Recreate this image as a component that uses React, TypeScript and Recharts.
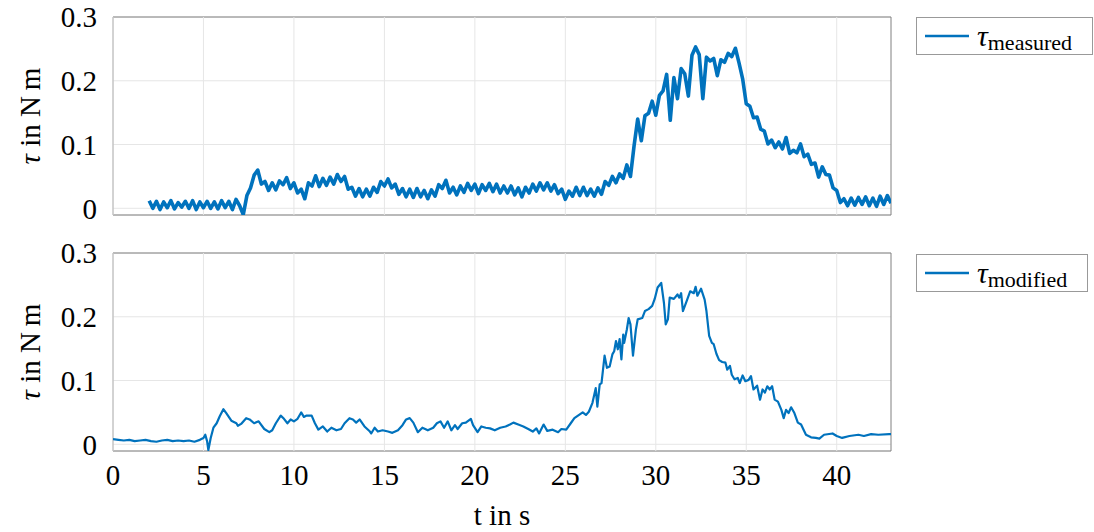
import { LineChart, Line, XAxis, YAxis, CartesianGrid, ReferenceArea, ReferenceLine, Label } from 'recharts';

// t in s, tau in N m
const timeTicks = [0, 5, 10, 15, 20, 25, 30, 35, 40];
const torqueTicks = [0, 0.1, 0.2, 0.3];

const measured: [number, number][] = [
  [2.0, 0.012], [2.2, 0.0], [2.4, 0.011], [2.6, -0.002], [2.8, 0.01], [3.0, 0.001], [3.2, 0.012], [3.4, -0.001],
  [3.6, 0.009], [3.8, 0.002], [4.0, 0.011], [4.2, 0.0], [4.4, 0.012], [4.6, -0.002], [4.8, 0.01], [5.0, 0.001],
  [5.2, 0.011], [5.4, 0.0], [5.6, 0.01], [5.8, -0.001], [6.0, 0.012], [6.2, 0.001], [6.4, 0.011], [6.6, -0.002],
  [6.8, 0.014], [7.0, 0.004], [7.2, -0.01], [7.4, 0.02], [7.6, 0.032], [7.8, 0.052], [8.0, 0.06], [8.2, 0.038],
  [8.4, 0.042], [8.6, 0.028], [8.8, 0.04], [9.0, 0.029], [9.2, 0.043], [9.4, 0.037], [9.6, 0.048], [9.8, 0.031],
  [10.0, 0.04], [10.2, 0.024], [10.4, 0.03], [10.6, 0.015], [10.8, 0.04], [11.0, 0.035], [11.2, 0.051], [11.4, 0.034],
  [11.6, 0.047], [11.8, 0.036], [12.0, 0.049], [12.2, 0.038], [12.4, 0.053], [12.6, 0.042], [12.8, 0.05], [13.0, 0.03],
  [13.2, 0.033], [13.4, 0.019], [13.6, 0.031], [13.8, 0.018], [14.0, 0.03], [14.2, 0.019], [14.4, 0.033], [14.6, 0.025],
  [14.8, 0.042], [15.0, 0.035], [15.2, 0.046], [15.4, 0.032], [15.6, 0.038], [15.8, 0.022], [16.0, 0.031], [16.2, 0.018],
  [16.4, 0.03], [16.6, 0.017], [16.8, 0.031], [17.0, 0.018], [17.2, 0.028], [17.4, 0.015], [17.6, 0.029], [17.8, 0.019],
  [18.0, 0.037], [18.2, 0.031], [18.4, 0.044], [18.6, 0.024], [18.8, 0.033], [19.0, 0.021], [19.2, 0.035], [19.4, 0.025],
  [19.6, 0.039], [19.8, 0.028], [20.0, 0.038], [20.2, 0.023], [20.4, 0.037], [20.6, 0.028], [20.8, 0.039], [21.0, 0.026],
  [21.2, 0.038], [21.4, 0.024], [21.6, 0.035], [21.8, 0.024], [22.0, 0.035], [22.2, 0.021], [22.4, 0.032], [22.6, 0.018],
  [22.8, 0.033], [23.0, 0.024], [23.2, 0.038], [23.4, 0.027], [23.6, 0.04], [23.8, 0.029], [24.0, 0.04], [24.2, 0.027],
  [24.4, 0.037], [24.6, 0.023], [24.8, 0.03], [25.0, 0.014], [25.2, 0.027], [25.4, 0.019], [25.6, 0.033], [25.8, 0.02],
  [26.0, 0.033], [26.2, 0.02], [26.4, 0.03], [26.6, 0.019], [26.8, 0.032], [27.0, 0.022], [27.2, 0.042], [27.4, 0.036],
  [27.6, 0.05], [27.8, 0.04], [28.0, 0.054], [28.2, 0.047], [28.4, 0.068], [28.6, 0.05], [28.8, 0.098], [29.0, 0.14],
  [29.2, 0.106], [29.4, 0.145], [29.6, 0.149], [29.8, 0.168], [30.0, 0.146], [30.2, 0.177], [30.4, 0.184], [30.6, 0.21],
  [30.8, 0.138], [31.0, 0.205], [31.2, 0.172], [31.4, 0.219], [31.6, 0.211], [31.8, 0.176], [32.0, 0.24], [32.2, 0.253],
  [32.4, 0.241], [32.6, 0.172], [32.8, 0.237], [33.0, 0.231], [33.2, 0.235], [33.4, 0.208], [33.6, 0.233], [33.8, 0.229],
  [34.0, 0.243], [34.2, 0.238], [34.4, 0.251], [34.6, 0.228], [34.8, 0.203], [35.0, 0.164], [35.2, 0.16], [35.4, 0.142],
  [35.6, 0.143], [35.8, 0.124], [36.0, 0.121], [36.2, 0.101], [36.4, 0.107], [36.6, 0.095], [36.8, 0.104], [37.0, 0.093],
  [37.2, 0.111], [37.4, 0.086], [37.6, 0.091], [37.8, 0.087], [38.0, 0.101], [38.2, 0.081], [38.4, 0.085], [38.6, 0.069],
  [38.8, 0.071], [39.0, 0.049], [39.2, 0.065], [39.4, 0.053], [39.6, 0.052], [39.8, 0.032], [40.0, 0.028], [40.2, 0.009],
  [40.4, 0.015], [40.6, 0.004], [40.8, 0.016], [41.0, 0.005], [41.2, 0.017], [41.4, 0.006], [41.6, 0.018], [41.8, 0.004],
  [42.0, 0.016], [42.2, 0.003], [42.4, 0.019], [42.6, 0.006], [42.8, 0.02], [43.0, 0.008],
];

const modified: [number, number][] = [
  [0, 0.008], [0.3, 0.007], [0.6, 0.006], [0.9, 0.007], [1.2, 0.005], [1.5, 0.006], [1.8, 0.007], [2.1, 0.005],
  [2.4, 0.004], [2.7, 0.006], [3.0, 0.007], [3.3, 0.005], [3.6, 0.006], [3.9, 0.005], [4.2, 0.006], [4.5, 0.004],
  [4.8, 0.007], [5.0, 0.01], [5.1, 0.015], [5.2, 0.005], [5.27, -0.009], [5.4, 0.01], [5.55, 0.026], [5.73, 0.033],
  [5.9, 0.044], [6.1, 0.055], [6.26, 0.049], [6.54, 0.037], [6.82, 0.033], [6.9, 0.029], [7.08, 0.032], [7.36, 0.041],
  [7.55, 0.039], [7.8, 0.033], [8.05, 0.036], [8.36, 0.024], [8.64, 0.019], [8.8, 0.022], [9.0, 0.033], [9.27, 0.045],
  [9.45, 0.04], [9.64, 0.033], [9.82, 0.039], [10.0, 0.036], [10.2, 0.04], [10.4, 0.05], [10.55, 0.043], [10.7, 0.045],
  [10.98, 0.045], [11.16, 0.033], [11.35, 0.023], [11.6, 0.028], [11.84, 0.02], [12.07, 0.026], [12.35, 0.022], [12.6, 0.024],
  [12.8, 0.033], [13.07, 0.041], [13.26, 0.039], [13.44, 0.034], [13.63, 0.039], [13.9, 0.028], [14.2, 0.02], [14.27, 0.017],
  [14.46, 0.026], [14.64, 0.02], [14.9, 0.022], [15.2, 0.02], [15.44, 0.018], [15.75, 0.022], [16.0, 0.03], [16.2, 0.039],
  [16.4, 0.041], [16.6, 0.034], [16.85, 0.019], [17.1, 0.026], [17.4, 0.022], [17.7, 0.026], [17.9, 0.033], [18.1, 0.036],
  [18.3, 0.026], [18.5, 0.036], [18.7, 0.022], [18.9, 0.03], [19.05, 0.024], [19.3, 0.033], [19.5, 0.034], [19.78, 0.04],
  [19.9, 0.03], [20.15, 0.019], [20.36, 0.028], [20.6, 0.026], [20.84, 0.025], [21.1, 0.022], [21.4, 0.026], [21.7, 0.028],
  [21.94, 0.031], [22.13, 0.034], [22.4, 0.031], [22.68, 0.028], [22.95, 0.024], [23.2, 0.02], [23.4, 0.025], [23.55, 0.017],
  [23.8, 0.031], [24.0, 0.021], [24.3, 0.023], [24.6, 0.019], [24.78, 0.024], [25.05, 0.023], [25.3, 0.033], [25.5, 0.041],
  [25.7, 0.045], [25.96, 0.05], [26.14, 0.046], [26.3, 0.051], [26.5, 0.065], [26.68, 0.088], [26.77, 0.059], [26.9, 0.094],
  [27.0, 0.096], [27.17, 0.139], [27.3, 0.12], [27.45, 0.122], [27.6, 0.141], [27.7, 0.146], [27.8, 0.162], [27.9, 0.149],
  [28.0, 0.165], [28.1, 0.133], [28.2, 0.172], [28.25, 0.159], [28.4, 0.18], [28.5, 0.198], [28.6, 0.188], [28.74, 0.139],
  [28.9, 0.18], [29.0, 0.196], [29.25, 0.198], [29.4, 0.209], [29.6, 0.212], [29.8, 0.217], [29.94, 0.228], [30.1, 0.246],
  [30.3, 0.253], [30.45, 0.222], [30.55, 0.188], [30.67, 0.196], [30.77, 0.23], [31.0, 0.228], [31.2, 0.235], [31.3, 0.23],
  [31.4, 0.237], [31.5, 0.209], [31.71, 0.225], [31.9, 0.24], [32.1, 0.237], [32.2, 0.247], [32.3, 0.233], [32.5, 0.244],
  [32.7, 0.227], [32.8, 0.209], [32.95, 0.17], [33.1, 0.159], [33.2, 0.157], [33.35, 0.142], [33.5, 0.132], [33.67, 0.129],
  [33.85, 0.128], [33.95, 0.117], [34.1, 0.123], [34.2, 0.109], [34.35, 0.102], [34.53, 0.104], [34.64, 0.096], [34.8, 0.108],
  [34.95, 0.099], [35.13, 0.101], [35.26, 0.107], [35.4, 0.086], [35.6, 0.092], [35.76, 0.07], [35.9, 0.086], [36.03, 0.081],
  [36.16, 0.091], [36.3, 0.086], [36.43, 0.091], [36.57, 0.07], [36.75, 0.067], [36.94, 0.054], [37.07, 0.041], [37.2, 0.054],
  [37.34, 0.049], [37.48, 0.058], [37.66, 0.049], [37.85, 0.034], [38.03, 0.031], [38.3, 0.015], [38.58, 0.011], [38.85, 0.01],
  [39.04, 0.009], [39.3, 0.015], [39.77, 0.017], [40.0, 0.013], [40.3, 0.01], [40.7, 0.013], [41.2, 0.015], [41.5, 0.013],
  [41.9, 0.016], [42.3, 0.015], [42.9, 0.016], [43.0, 0.016],
];

const FONT = "'Liberation Serif', 'DejaVu Serif', serif";
const BLUE = '#0072BD';
const GRID = '#e6e6e6';

function TorqueTitle({ viewBox }: any) {
  const cx = viewBox.x + 17;
  const cy = viewBox.y + viewBox.height / 2;
  return (
    <text
      x={cx}
      y={cy}
      transform={`rotate(-90, ${cx}, ${cy})`}
      textAnchor="middle"
      dominantBaseline="central"
      fontSize={29}
      fontFamily={FONT}
      fill="#000"
    >
      <tspan fontStyle="italic">τ</tspan>
      {' in N\u2009m'}
    </text>
  );
}

function LegendBox({ sub, top, width }: { sub: string; top: number; width: number }) {
  return (
    <div
      style={{
        position: 'absolute',
        left: 916,
        top,
        width,
        height: 38,
        boxSizing: 'border-box',
        border: '1px solid #999',
        background: '#fff',
        display: 'flex',
        alignItems: 'center',
        fontFamily: FONT,
        color: '#000',
      }}
    >
      <svg width={52} height={10} style={{ marginLeft: 8 }}>
        <line x1={0} y1={5} x2={44} y2={5} stroke={BLUE} strokeWidth={2.5} />
      </svg>
      <span style={{ fontSize: 30, fontStyle: 'italic', lineHeight: 1 }}>τ</span>
      <span style={{ fontSize: 22, lineHeight: 1, position: 'relative', top: 7 }}>{sub}</span>
    </div>
  );
}

function Panel({
  rows,
  showTime,
  height,
  margin,
  strokeWidth,
}: {
  rows: [number, number][];
  showTime: boolean;
  height: number;
  margin: { top: number; right: number; bottom: number; left: number };
  strokeWidth: number;
}) {
  const data = rows.map(([t, tau]) => ({ t, tau }));
  return (
    <LineChart width={1094} height={height} data={data} margin={margin}>
      <CartesianGrid stroke={GRID} strokeWidth={1} vertical={false} />
      {timeTicks.map((t) => (
        <ReferenceLine key={t} x={t} stroke={GRID} strokeWidth={1} />
      ))}
      <XAxis
        dataKey="t"
        type="number"
        domain={[0, 43]}
        ticks={timeTicks}
        interval={0}
        allowDataOverflow
        height={showTime ? 80 : 1}
        tick={showTime ? { fill: '#000', fontSize: 29, fontFamily: FONT } : false}
        tickSize={0}
        tickMargin={13}
        axisLine={false}
        tickLine={false}
      >
        {showTime && (
          <Label value="t in s" position="insideBottom" offset={6} fill="#000" fontSize={29} fontFamily={FONT} />
        )}
      </XAxis>
      <YAxis
        type="number"
        domain={[-0.0105, 0.3]}
        ticks={torqueTicks}
        interval={0}
        allowDataOverflow
        width={100}
        tick={{ fill: '#000', fontSize: 29, fontFamily: FONT }}
        tickSize={0}
        tickMargin={16}
        axisLine={false}
        tickLine={false}
        label={{ content: (p: any) => <TorqueTitle viewBox={p.viewBox} /> }}
      />
      <Line
        dataKey="tau"
        type="linear"
        stroke={BLUE}
        strokeWidth={strokeWidth}
        strokeLinejoin="round"
        dot={false}
        isAnimationActive={false}
      />
      <ReferenceArea
        x1={0}
        x2={43}
        y1={-0.0105}
        y2={0.3}
        fill="none"
        stroke="#808080"
        strokeWidth={1}
        ifOverflow="visible"
      />
    </LineChart>
  );
}

export default function App() {
  return (
    <div style={{ position: 'absolute', left: 0, top: 0, width: 1094, height: 532, background: '#fff' }}>
      <div style={{ position: 'absolute', left: 0, top: 0 }}>
        <Panel
          rows={measured}
          showTime={false}
          height={232}
          margin={{ top: 17, right: 203, bottom: 16, left: 13 }}
          strokeWidth={3.6}
        />
      </div>
      <div style={{ position: 'absolute', left: 0, top: 232 }}>
        <Panel
          rows={modified}
          showTime
          height={300}
          margin={{ top: 21, right: 203, bottom: 1, left: 13 }}
          strokeWidth={2.2}
        />
      </div>
      <LegendBox sub="measured" top={17} width={177} />
      <LegendBox sub="modified" top={254} width={172} />
    </div>
  );
}
